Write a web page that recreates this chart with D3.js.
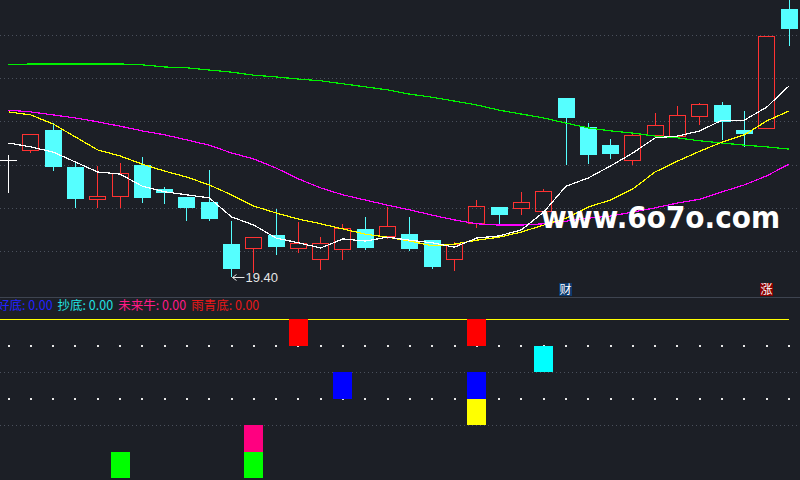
<!DOCTYPE html>
<html><head><meta charset="utf-8">
<script src="https://cdn.jsdelivr.net/npm/d3@7"></script>
<style>html,body{margin:0;padding:0;background:#1c1f26;overflow:hidden}</style>
</head><body>
<svg id="c" width="800" height="480"></svg>
<script>
// ---------- data ----------
const openP  = [22.11,22.31,22.80,21.94,21.18,21.25,21.99,21.44,21.25,21.13,20.16,20.05,20.37,20.05,19.79,20.02,20.51,20.32,20.39,20.25,19.79,20.63,21.02,20.97,20.90,23.54,22.87,22.45,22.08,22.66,22.64,23.10,23.38,22.80,22.82,25.60];
const highP  = [22.22,22.71,22.96,22.04,21.97,22.04,22.18,21.48,21.25,21.88,20.69,20.32,20.97,20.67,20.32,20.63,20.79,21.02,20.79,20.25,20.21,21.18,21.02,21.37,21.44,23.54,22.96,22.59,22.73,23.19,23.36,23.43,23.45,23.24,24.98,25.95];
const lowP   = [21.34,22.27,21.85,21.00,21.00,21.00,21.11,21.09,20.69,20.69,19.40,19.49,19.91,19.95,19.56,19.79,20.02,20.28,20.00,19.58,19.54,20.53,20.60,20.83,20.90,21.99,22.01,22.13,21.99,22.66,22.62,22.92,22.57,22.41,22.82,24.75];
const closeP = [22.11,22.71,21.94,21.20,21.27,21.81,21.23,21.34,21.00,20.74,19.58,20.32,20.09,20.19,20.19,20.53,20.07,20.58,20.05,19.63,20.16,21.04,20.83,21.13,21.39,23.08,22.22,22.25,22.69,22.92,23.15,23.40,22.99,22.71,24.98,25.14];

const ma5  = [22.50,22.41,22.29,22.06,21.83,21.78,21.50,21.37,21.30,21.23,20.79,20.60,20.30,20.19,20.07,20.28,20.23,20.32,20.25,20.19,20.09,20.30,20.35,20.49,20.90,21.50,21.69,21.97,22.27,22.62,22.66,22.78,23.03,23.03,23.33,23.82];
const ma10 = [23.22,23.15,22.94,22.64,22.34,22.20,22.01,21.85,21.71,21.53,21.30,21.04,20.88,20.74,20.63,20.51,20.39,20.32,20.23,20.12,20.16,20.25,20.32,20.44,20.60,20.76,21.02,21.18,21.44,21.83,22.08,22.31,22.52,22.69,23.01,23.24];
const ma30 = [23.26,23.22,23.15,23.08,22.99,22.89,22.78,22.69,22.57,22.45,22.27,22.13,21.92,21.67,21.46,21.30,21.18,21.06,20.95,20.83,20.72,20.63,20.60,20.60,20.63,20.69,20.76,20.81,20.90,21.00,21.11,21.20,21.37,21.53,21.74,22.01];
const ma60 = [24.31,24.33,24.33,24.33,24.33,24.33,24.31,24.26,24.24,24.19,24.14,24.07,24.03,23.98,23.94,23.87,23.80,23.73,23.63,23.56,23.47,23.38,23.26,23.17,23.08,22.96,22.85,22.78,22.73,22.66,22.62,22.55,22.50,22.45,22.41,22.36];

const priceTicks = [20,21,22,23,24,25];
const lowLabel = "19.40";

const markerIdx  = [25, 34];
const markerText = ["财", "涨"];

// indicator panel: candle indices where each signal fires
const sigGreen  = [5, 11];
const sigPink   = [11];
const sigYellow = [21];
const sigBlue   = [15, 21];
const sigCyan   = [24];
const sigRed    = [13, 21];
const dotLevels = [3, 5];
const gridLevels = [2, 4];
const topLevel = 6;

const legendNames  = ["好底", "抄底", "未来牛", "雨青底"];
const legendValues = [0, 0, 0, 0];

// ---------- drawing ----------
const W = 800, H = 480;
const BG = "#1c1f26";
const CY = "#55ffff", RD = "#ff3232";
const svg = d3.select("#c");
svg.append("rect").attr("width", W).attr("height", H).attr("fill", BG);

const n = closeP.length;
const x  = d3.scaleLinear().domain([0, n - 1]).range([8.5, 789]);
const y  = d3.scaleLinear().domain([20, 25]).range([251, 35]);
const yi = d3.scaleLinear().domain([0, 6]).range([478, 319]);

const defs = svg.append("defs");
defs.append("clipPath").attr("id", "top").append("rect").attr("x", 0).attr("y", 0).attr("width", W).attr("height", 296);

const up = svg.append("g").attr("clip-path", "url(#top)");

// grid
up.selectAll("line.g").data(priceTicks).join("line")
  .attr("x1", 0).attr("x2", W)
  .attr("y1", d => Math.round(y(d)) + 0.5).attr("y2", d => Math.round(y(d)) + 0.5)
  .attr("stroke", "#4a505c").attr("stroke-dasharray", "1,3");

// candles
const cg = up.append("g").attr("shape-rendering", "crispEdges");
for (let i = 0; i < n; i++) {
  const o = openP[i], c = closeP[i], h = highP[i], l = lowP[i];
  const left = Math.round(x(i) - 8.5);
  const cx = left + 8.5;
  const t = Math.round(y(Math.max(o, c))), b = Math.round(y(Math.min(o, c)));
  if (c < o) {
    cg.append("line").attr("x1", cx).attr("x2", cx).attr("y1", y(h)).attr("y2", y(l)).attr("stroke", CY);
    cg.append("rect").attr("x", left).attr("y", t).attr("width", 17).attr("height", Math.max(1, b - t)).attr("fill", CY);
  } else if (c > o) {
    cg.append("line").attr("x1", cx).attr("x2", cx).attr("y1", y(h)).attr("y2", t).attr("stroke", RD);
    cg.append("line").attr("x1", cx).attr("x2", cx).attr("y1", b).attr("y2", y(l)).attr("stroke", RD);
    cg.append("rect").attr("x", left + 0.5).attr("y", t + 0.5).attr("width", 16).attr("height", Math.max(1, b - t - 1))
      .attr("fill", "none").attr("stroke", RD);
  } else {
    cg.append("line").attr("x1", cx).attr("x2", cx).attr("y1", y(h)).attr("y2", y(l)).attr("stroke", "#ffffff");
    cg.append("line").attr("x1", left).attr("x2", left + 17).attr("y1", t + 0.5).attr("y2", t + 0.5).attr("stroke", "#ffffff");
  }
}

// moving averages
const line = d3.line().x((d, i) => x(i)).y(d => y(d));
[[ma60, "#00f000"], [ma30, "#ff00ff"], [ma10, "#ffff00"], [ma5, "#ffffff"]].forEach(([arr, col]) => {
  up.append("path").datum(arr).attr("d", line).attr("fill", "none").attr("stroke", col)
    .attr("stroke-width", 1.2).attr("shape-rendering", "crispEdges");
});

// low label
const li = lowP.indexOf(d3.min(lowP));
const ax = Math.round(x(li)) + 0.5, ay = Math.round(y(lowP[li])) + 0.5;
up.append("path").attr("d", `M${ax},${ay}H${ax + 12}M${ax},${ay}l4,-3M${ax},${ay}l4,3`)
  .attr("stroke", "#e6e6e6").attr("fill", "none");
up.append("text").attr("x", ax + 13).attr("y", ay + 4.5).text(lowLabel)
  .attr("fill", "#e6e6e6").attr("font-family", "Liberation Sans, Arial, sans-serif").attr("font-size", 13);

// markers
markerIdx.forEach((mi, k) => {
  const mx = Math.round(x(mi)) - 7;
  up.append("rect").attr("x", mx).attr("y", 283).attr("width", 13).attr("height", 13)
    .attr("fill", k === 0 ? "#0c3a6e" : "#880000");
  up.append("text").attr("x", mx + 6.5).attr("y", 294).attr("text-anchor", "middle").text(markerText[k])
    .attr("fill", "#ffffff").attr("font-family", "Noto Sans CJK SC").attr("font-size", 12);
});

// separator
svg.append("line").attr("x1", 0).attr("x2", W).attr("y1", 297.5).attr("y2", 297.5).attr("stroke", "#3e4450");

// ---------- indicator panel ----------
const lo = svg.append("g");
lo.selectAll("line.lg").data(gridLevels).join("line")
  .attr("x1", 0).attr("x2", W)
  .attr("y1", d => Math.round(yi(d)) + 0.5).attr("y2", d => Math.round(yi(d)) + 0.5)
  .attr("stroke", "#4a505c").attr("stroke-dasharray", "1,3");

dotLevels.forEach(lv => {
  for (let i = 0; i < n; i++) {
    lo.append("rect").attr("x", Math.round(x(i)) - 1).attr("y", Math.round(yi(lv)) - 1)
      .attr("width", 2).attr("height", 2).attr("fill", "#e8e8e8");
  }
});

lo.append("line").attr("x1", 0).attr("x2", x(n - 1)).attr("y1", Math.round(yi(topLevel)) + 0.5).attr("y2", Math.round(yi(topLevel)) + 0.5)
  .attr("stroke", "#ffff00");

const sigs = [[sigGreen, 1, "#00ff00"], [sigPink, 2, "#ff0080"], [sigYellow, 3, "#ffff00"],
              [sigBlue, 4, "#0000ff"], [sigCyan, 5, "#00ffff"], [sigRed, 6, "#ff0000"]];
sigs.forEach(([idx, lv, col]) => {
  lo.selectAll(null).data(idx).join("rect")
    .attr("x", d => Math.round(x(d) - 9.5))
    .attr("y", Math.round(yi(lv)))
    .attr("width", 19)
    .attr("height", Math.round(yi(lv - 1)) - Math.round(yi(lv)))
    .attr("fill", col);
});

// legend
const legCols = ["#2222ff", "#22e0e0", "#ff1a86", "#e81818"];
let lx = -3;
legendNames.forEach((nm, k) => {
  const t = svg.append("text").attr("x", lx).attr("y", 310)
    .text(nm + ": " + legendValues[k].toFixed(2))
    .attr("fill", legCols[k]).attr("font-family", "Noto Sans CJK SC").attr("font-size", 12.5);
  lx += t.node().getComputedTextLength() + 5;
});

// watermark
svg.append("text").attr("x", 541).attr("y", 228).text("www.6o7o.com")
  .attr("fill", "#ffffff").attr("font-family", "DejaVu Sans").attr("font-weight", "bold").attr("font-size", 30)
  .attr("textLength", 239).attr("lengthAdjust", "spacingAndGlyphs");
</script>
</body></html>
